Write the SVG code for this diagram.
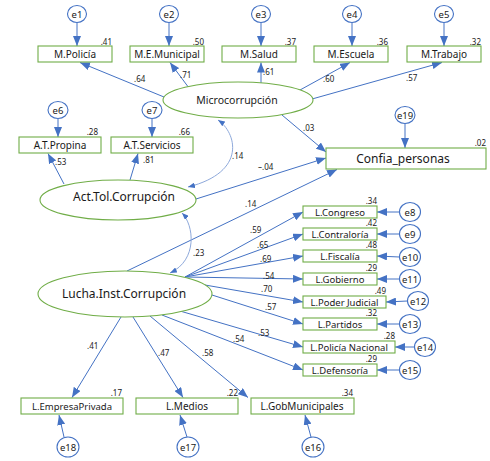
<svg xmlns="http://www.w3.org/2000/svg" width="490" height="461" viewBox="0 0 490 461">
<defs>
<marker id="ah" viewBox="0 0 10 8" refX="10" refY="4" markerWidth="10" markerHeight="8" markerUnits="userSpaceOnUse" orient="auto"><path d="M0,0 L10,4 L0,8 z" fill="#4472C4"/></marker>
<marker id="ac" viewBox="0 0 10 8" refX="10" refY="4" markerWidth="7" markerHeight="5.6" markerUnits="userSpaceOnUse" orient="auto-start-reverse"><path d="M0,0 L10,4 L0,8 z" fill="#4472C4"/></marker>
</defs>
<style>
text{font-family:"Noto Sans","Open Sans","DejaVu Sans",sans-serif;fill:#1a1a1a}
.box{fill:#fff;stroke:#70AD47;stroke-width:1.1}
.lat{fill:#fff;stroke:#70AD47;stroke-width:1.1}
.err{fill:#fff;stroke:#4472C4;stroke-width:1.1}
.ln{stroke:#4472C4;stroke-width:1;fill:none;marker-end:url(#ah)}
.cv{stroke:#8EA9DB;stroke-width:1;fill:none;marker-start:url(#ac);marker-end:url(#ac)}
.lb{font-size:10px;text-anchor:middle}
.lb2{font-size:9.5px;text-anchor:middle}
.et{font-size:9.5px;text-anchor:middle}
.r2{font-size:8px;text-anchor:end}
.co{font-size:8px}
</style>

<g id="connectors">
<line class="ln" x1="77" y1="22.5" x2="77" y2="46"/>
<line class="ln" x1="169" y1="22.5" x2="169" y2="46"/>
<line class="ln" x1="261" y1="22.5" x2="261" y2="46"/>
<line class="ln" x1="352" y1="22.5" x2="352" y2="46"/>
<line class="ln" x1="444" y1="22.5" x2="444" y2="46"/>
<line class="ln" x1="58" y1="118.5" x2="58" y2="137"/>
<line class="ln" x1="152" y1="118.5" x2="152" y2="137"/>
<line class="ln" x1="405" y1="123.5" x2="405" y2="148"/>
<line class="ln" x1="399.5" y1="212" x2="377" y2="212"/>
<line class="ln" x1="399.5" y1="234" x2="377" y2="234"/>
<line class="ln" x1="399.5" y1="257" x2="377" y2="256"/>
<line class="ln" x1="399.5" y1="279" x2="377" y2="279"/>
<line class="ln" x1="407.5" y1="301" x2="386" y2="302"/>
<line class="ln" x1="399.5" y1="324" x2="377" y2="324"/>
<line class="ln" x1="414.5" y1="347" x2="395" y2="347"/>
<line class="ln" x1="399.5" y1="370" x2="377" y2="370"/>
<line class="ln" x1="64" y1="437" x2="59" y2="415"/>
<line class="ln" x1="187" y1="437" x2="180" y2="415"/>
<line class="ln" x1="311" y1="437" x2="305" y2="415"/>
<line class="ln" x1="164" y1="97" x2="80" y2="62.5"/>
<line class="ln" x1="189" y1="88" x2="170" y2="62.5"/>
<line class="ln" x1="261" y1="83" x2="261" y2="62.5"/>
<line class="ln" x1="300" y1="90" x2="350" y2="62.5"/>
<line class="ln" x1="312" y1="99" x2="442" y2="62.5"/>
<line class="ln" x1="282" y1="115" x2="326" y2="152"/>
<line class="ln" x1="64" y1="184" x2="48" y2="153.5"/>
<line class="ln" x1="130" y1="180" x2="138" y2="153.5"/>
<line class="ln" x1="196" y1="199" x2="326" y2="158"/>
<line class="ln" x1="127" y1="271" x2="337" y2="169.5"/>
<line class="ln" x1="185" y1="277" x2="303" y2="212"/>
<line class="ln" x1="185" y1="277" x2="303" y2="234"/>
<line class="ln" x1="185" y1="277" x2="303" y2="256"/>
<line class="ln" x1="185" y1="277" x2="303" y2="279"/>
<line class="ln" x1="205" y1="285" x2="303" y2="302"/>
<line class="ln" x1="212" y1="295" x2="303" y2="324"/>
<line class="ln" x1="180" y1="311" x2="303" y2="347"/>
<line class="ln" x1="162" y1="315" x2="303" y2="370"/>
<line class="ln" x1="121" y1="317" x2="72" y2="397.5"/>
<line class="ln" x1="133" y1="317" x2="183" y2="397.5"/>
<line class="ln" x1="150" y1="316" x2="248" y2="397.5"/>
<path class="cv" d="M218,120 C236,132 248,172 188,187"/>
<path class="cv" d="M182,213 C194,225 198,260 170,273"/>
<text class="co" x="134" y="82">.64</text>
<text class="co" x="180" y="78">.71</text>
<text class="co" x="263" y="75">.61</text>
<text class="co" x="323" y="82">.60</text>
<text class="co" x="406" y="81">.57</text>
<text class="co" x="303" y="131">.03</text>
<text class="co" x="232" y="159">.14</text>
<text class="co" x="258" y="170">–.04</text>
<text class="co" x="245" y="207">.14</text>
<text class="co" x="55" y="165">.53</text>
<text class="co" x="143" y="163">.81</text>
<text class="co" x="193" y="256">.23</text>
<text class="co" x="250" y="233">.59</text>
<text class="co" x="257" y="248">.65</text>
<text class="co" x="260" y="262">.69</text>
<text class="co" x="263" y="279">.54</text>
<text class="co" x="261" y="292">.70</text>
<text class="co" x="265" y="310">.57</text>
<text class="co" x="258" y="336">.53</text>
<text class="co" x="233" y="342">.54</text>
<text class="co" x="87" y="349">.41</text>
<text class="co" x="158" y="356">.47</text>
<text class="co" x="202" y="356">.58</text>
</g>

<g id="e1"><ellipse class="err" cx="77" cy="14" rx="9.5" ry="8.5"/><text class="et" x="77" y="17.5">e1</text></g>
<g id="e2"><ellipse class="err" cx="169" cy="14" rx="9.5" ry="8.5"/><text class="et" x="169" y="17.5">e2</text></g>
<g id="e3"><ellipse class="err" cx="261" cy="14" rx="9.5" ry="8.5"/><text class="et" x="261" y="17.5">e3</text></g>
<g id="e4"><ellipse class="err" cx="352" cy="14" rx="9.5" ry="8.5"/><text class="et" x="352" y="17.5">e4</text></g>
<g id="e5"><ellipse class="err" cx="444" cy="14" rx="9.5" ry="8.5"/><text class="et" x="444" y="17.5">e5</text></g>
<g id="m_policia"><rect class="box" x="38" y="46" width="74" height="16"/><text class="lb" x="75" y="57.5">M.Policía</text><text class="r2" x="112" y="45">.41</text></g>
<g id="m_emunicipal"><rect class="box" x="130" y="46" width="74" height="16"/><text class="lb" x="167" y="57.5">M.E.Municipal</text><text class="r2" x="204" y="45">.50</text></g>
<g id="m_salud"><rect class="box" x="222" y="46" width="74" height="16"/><text class="lb" x="259" y="57.5">M.Salud</text><text class="r2" x="296" y="45">.37</text></g>
<g id="m_escuela"><rect class="box" x="314" y="46" width="74" height="16"/><text class="lb" x="351" y="57.5">M.Escuela</text><text class="r2" x="388" y="45">.36</text></g>
<g id="m_trabajo"><rect class="box" x="407" y="46" width="74" height="16"/><text class="lb" x="444" y="57.5">M.Trabajo</text><text class="r2" x="481" y="45">.32</text></g>

<g id="microcorrupcion"><ellipse class="lat" cx="238" cy="100" rx="75" ry="18"/><text x="237" y="104" style="font-size:10.5px;text-anchor:middle">Microcorrupción</text></g>

<g id="e6"><ellipse class="err" cx="58" cy="110" rx="10" ry="8.5"/><text class="et" x="58" y="113.5">e6</text></g>
<g id="e7"><ellipse class="err" cx="152" cy="110" rx="10" ry="8.5"/><text class="et" x="152" y="113.5">e7</text></g>
<g id="at_propina"><rect class="box" x="19" y="137" width="82" height="16"/><text class="lb" x="60" y="148.5">A.T.Propina</text><text class="r2" x="98" y="135">.28</text></g>
<g id="at_servicios"><rect class="box" x="111" y="137" width="82" height="16"/><text class="lb" x="152" y="148.5">A.T.Servicios</text><text class="r2" x="190" y="135">.66</text></g>

<g id="act_tol"><ellipse class="lat" cx="118" cy="200" rx="78" ry="20"/><text x="124" y="201" style="font-size:12px;text-anchor:middle">Act.Tol.Corrupción</text></g>

<g id="e19"><ellipse class="err" cx="405" cy="115" rx="10" ry="8.5"/><text class="et" x="405" y="118.5">e19</text></g>
<g id="confia"><rect class="box" x="326" y="148" width="160" height="21"/><text x="403" y="163" style="font-size:12px;text-anchor:middle">Confia_personas</text><text class="r2" x="486" y="146">.02</text></g>

<g id="lucha"><ellipse class="lat" cx="125" cy="294" rx="87" ry="23"/><text x="124" y="297.5" style="font-size:12px;text-anchor:middle">Lucha.Inst.Corrupción</text></g>

<g id="l_congreso"><rect class="box" x="303" y="206" width="74" height="12"/><text class="lb2" x="340" y="215.5">L.Congreso</text><text class="r2" x="377" y="204">.34</text></g>
<g id="l_contraloria"><rect class="box" x="303" y="228" width="74" height="12"/><text class="lb2" x="340" y="237.5">L.Contraloría</text><text class="r2" x="377" y="226">.42</text></g>
<g id="l_fiscalia"><rect class="box" x="303" y="250" width="74" height="12"/><text class="lb2" x="340" y="259.5">L.Fiscalía</text><text class="r2" x="377" y="248">.48</text></g>
<g id="l_gobierno"><rect class="box" x="303" y="273" width="74" height="12"/><text class="lb2" x="340" y="282.5">L.Gobierno</text><text class="r2" x="377" y="271">.29</text></g>
<g id="l_poder"><rect class="box" x="303" y="296" width="83" height="12"/><text class="lb2" x="344.5" y="305.5">L.Poder Judicial</text><text class="r2" x="386" y="294">.49</text></g>
<g id="l_partidos"><rect class="box" x="303" y="318" width="74" height="12"/><text class="lb2" x="340" y="327.5">L.Partidos</text><text class="r2" x="377" y="316">.32</text></g>
<g id="l_policia"><rect class="box" x="303" y="341" width="92" height="12"/><text class="lb2" x="349" y="350.5">L.Policía Nacional</text><text class="r2" x="395" y="339">.28</text></g>
<g id="l_defensoria"><rect class="box" x="303" y="364" width="74" height="12"/><text class="lb2" x="340" y="373.5">L.Defensoría</text><text class="r2" x="377" y="362">.29</text></g>

<g id="e8"><ellipse class="err" cx="410" cy="212" rx="10.5" ry="9.5"/><text class="et" x="410" y="215.5">e8</text></g>
<g id="e9"><ellipse class="err" cx="410" cy="234" rx="10.5" ry="9.5"/><text class="et" x="410" y="237.5">e9</text></g>
<g id="e10"><ellipse class="err" cx="410" cy="257" rx="10.5" ry="9.5"/><text class="et" x="410" y="260.5">e10</text></g>
<g id="e11"><ellipse class="err" cx="410" cy="279" rx="10.5" ry="9.5"/><text class="et" x="410" y="282.5">e11</text></g>
<g id="e12"><ellipse class="err" cx="418" cy="301" rx="10.5" ry="9.5"/><text class="et" x="418" y="304.5">e12</text></g>
<g id="e13"><ellipse class="err" cx="410" cy="324" rx="10.5" ry="9.5"/><text class="et" x="410" y="327.5">e13</text></g>
<g id="e14"><ellipse class="err" cx="425" cy="347" rx="10.5" ry="9.5"/><text class="et" x="425" y="350.5">e14</text></g>
<g id="e15"><ellipse class="err" cx="410" cy="370" rx="10.5" ry="9.5"/><text class="et" x="410" y="373.5">e15</text></g>

<g id="l_empresa"><rect class="box" x="21" y="398" width="102" height="16"/><text class="lb" x="72" y="409.5" style="font-size:9.5px">L.EmpresaPrivada</text><text class="r2" x="122" y="396">.17</text></g>
<g id="l_medios"><rect class="box" x="136" y="398" width="102" height="16"/><text class="lb" x="187" y="409.5">L.Medios</text><text class="r2" x="238" y="396">.22</text></g>
<g id="l_gobmun"><rect class="box" x="251" y="398" width="103" height="16"/><text class="lb" x="302" y="409.5">L.GobMunicipales</text><text class="r2" x="353" y="396">.34</text></g>

<g id="e18"><ellipse class="err" cx="68" cy="447" rx="11" ry="10"/><text class="et" x="68" y="450.5">e18</text></g>
<g id="e17"><ellipse class="err" cx="188" cy="447" rx="11" ry="10"/><text class="et" x="188" y="450.5">e17</text></g>
<g id="e16"><ellipse class="err" cx="313" cy="447" rx="11" ry="10"/><text class="et" x="313" y="450.5">e16</text></g>
</svg>
